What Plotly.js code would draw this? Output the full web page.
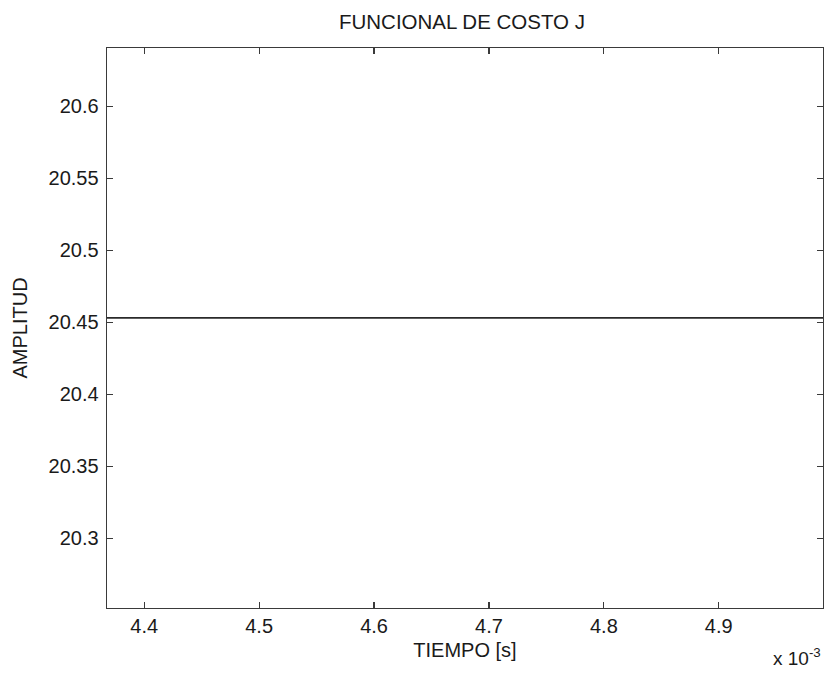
<!DOCTYPE html>
<html>
<head>
<meta charset="utf-8">
<script src="https://cdn.plot.ly/plotly-3.0.1.min.js"></script>
<style>html,body{margin:0;padding:0;background:#fff;}#chart{width:825px;height:673px;}</style>
</head>
<body>
<div id="chart"></div>
<script>
// Time (x 10^-3 s) and cost functional J
const tiempo = [4.3676, 4.9907];
const costoJ = [20.4532, 20.4532];
const xTicks = [4.4, 4.5, 4.6, 4.7, 4.8, 4.9];
const yTicks = [20.3, 20.35, 20.4, 20.45, 20.5, 20.55, 20.6];
const xRange = [4.3676, 4.9907];
const yRange = [20.2517, 20.6406];

const font = "Liberation Sans, Arial, sans-serif";
const trace = {
  x: tiempo, y: costoJ, mode: 'lines', type: 'scatter',
  line: {color: '#2a2a2a', width: 1.6}, hoverinfo: 'skip'
};
const axisCommon = {
  showgrid: false, zeroline: false, showline: true, mirror: 'ticks',
  linecolor: '#3a3a3a', linewidth: 1.4, ticks: 'inside', ticklen: 6,
  tickcolor: '#3a3a3a', tickwidth: 1.2,
  tickfont: {family: font, size: 20, color: '#1a1a1a'}
};
const layout = {
  width: 825, height: 673,
  margin: {l: 106.7, r: 1.7, t: 48.3, b: 64.7},
  paper_bgcolor: '#fff', plot_bgcolor: '#fff',
  showlegend: false,
  title: {text: 'FUNCIONAL DE COSTO J', font: {family: font, size: 20.5, color: '#1a1a1a'},
          x: 0.56, xanchor: 'center', y: 0.967, yanchor: 'middle'},
  xaxis: Object.assign({}, axisCommon, {
    range: xRange, tickvals: xTicks, ticktext: xTicks.map(v => v.toFixed(1)),
    title: {text: 'TIEMPO [s]', font: {family: font, size: 20, color: '#1a1a1a'}, standoff: 6}
  }),
  yaxis: Object.assign({}, axisCommon, {
    range: yRange, tickvals: yTicks, ticktext: yTicks.map(v => String(v)),
    ticklabelstandoff: 3,
    title: {text: 'AMPLITUD', font: {family: font, size: 20, color: '#1a1a1a'}, standoff: 15}
  }),
  annotations: [{
    text: 'x 10<sup>-3</sup>', xref: 'paper', yref: 'paper', x: 1, y: -0.113,
    xanchor: 'right', yanchor: 'bottom', showarrow: false,
    font: {family: font, size: 19, color: '#1a1a1a'}
  }]
};
Plotly.newPlot('chart', [trace], layout, {displayModeBar: false, staticPlot: true});
</script>
</body>
</html>
